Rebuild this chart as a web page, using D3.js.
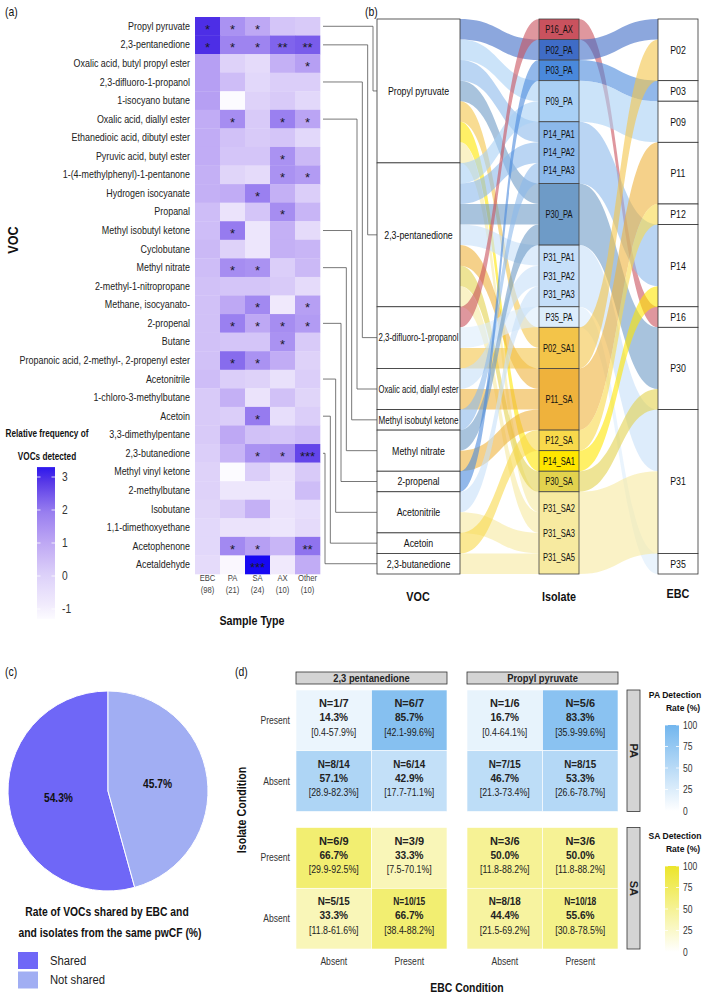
<!DOCTYPE html>
<html lang="en">
<head>
<meta charset="UTF-8">
<title>VOCs in EBC and isolates</title>
<style>
  body { margin: 0; background: #fff; }
  svg { display: block; font-family: "Liberation Sans", Arial, sans-serif; }
</style>
</head>
<body>
<script src="https://d3js.org/d3.v7.min.js"></script>
<script>

// ---- (a) heatmap data
var vocs = ["Propyl pyruvate", "2,3-pentanedione", "Oxalic acid, butyl propyl ester", "2,3-difluoro-1-propanol",
  "1-isocyano butane", "Oxalic acid, diallyl ester", "Ethanedioic acid, dibutyl ester", "Pyruvic acid, butyl ester",
  "1-(4-methylphenyl)-1-pentanone", "Hydrogen isocyanate", "Propanal", "Methyl isobutyl ketone", "Cyclobutane",
  "Methyl nitrate", "2-methyl-1-nitropropane", "Methane, isocyanato-", "2-propenal", "Butane",
  "Propanoic acid, 2-methyl-, 2-propenyl ester", "Acetonitrile", "1-chloro-3-methylbutane", "Acetoin",
  "3,3-dimethylpentane", "2,3-butanedione", "Methyl vinyl ketone", "2-methylbutane", "Isobutane",
  "1,1-dimethoxyethane", "Acetophenone", "Acetaldehyde"];
var sampleTypes = ["EBC", "PA", "SA", "AX", "Other"];
var sampleCounts = ["(98)", "(21)", "(24)", "(10)", "(10)"];
var relFreq = [
  [3.0, 1.5, 1.0, 0.3, 0.2], [3.0, 1.8, 1.8, 2.3, 2.4], [1.2, 0.0, -0.3, 0.8, 1.2], [1.2, 0.5, -0.2, 0.1, 0.1],
  [1.2, -1.3, 0.0, 0.2, -0.2], [0.9, 1.6, 0.2, 1.9, 1.1], [0.9, 0.4, 0.2, 0.3, -0.2], [0.9, 0.3, 0.3, 1.5, 0.6],
  [0.8, -0.1, -0.3, 1.5, 1.3], [0.8, 0.9, 1.9, 0.8, 0.1], [0.5, -0.6, 0.3, 1.6, 0.7], [0.5, 2.0, -0.7, 0.8, -0.3],
  [0.6, 0.0, -0.7, 0.8, 0.7], [0.5, 1.6, 1.5, 0.1, 0.6], [0.4, 0.3, 0.3, 0.2, -0.3], [0.4, 1.0, 1.7, -0.8, 1.2],
  [0.4, 1.9, 1.0, 1.6, 1.3], [0.4, 0.3, 0.3, 1.5, 0.2], [0.4, 2.2, 1.5, 0.9, 0.0], [0.5, 0.1, 0.0, -0.5, 0.1],
  [0.2, 0.8, -0.6, 0.4, -0.1], [0.2, 0.1, 2.0, -0.4, 0.1], [0.2, 1.0, 0.4, 0.3, 0.5], [0.1, 0.7, 1.5, 1.6, 2.7],
  [0.0, -1.3, 0.1, -0.6, 0.2], [0.0, -0.7, -0.7, -0.7, 0.5], [-0.1, 0.2, 0.8, -0.6, -0.4], [-0.2, -0.6, -0.6, -0.7, -0.3],
  [-0.2, 1.7, 1.2, 0.7, 2.1], [-0.3, -1.2, 3.5, -0.8, 0.9]
];
var signif = [
  ["*", "*", "*", "", ""], ["*", "*", "*", "**", "**"], ["", "", "", "", "*"], ["", "", "", "", ""],
  ["", "", "", "", ""], ["", "*", "", "*", "*"], ["", "", "", "", ""], ["", "", "", "*", ""],
  ["", "", "", "*", "*"], ["", "", "*", "", ""], ["", "", "", "*", ""], ["", "*", "", "", ""],
  ["", "", "", "", ""], ["", "*", "*", "", ""], ["", "", "", "", ""], ["", "", "*", "", "*"],
  ["", "*", "*", "*", "*"], ["", "", "", "*", ""], ["", "*", "*", "", ""], ["", "", "", "", ""],
  ["", "", "", "", ""], ["", "", "*", "", ""], ["", "", "", "", ""], ["", "", "*", "*", "***"],
  ["", "", "", "", ""], ["", "", "", "", ""], ["", "", "", "", ""], ["", "", "", "", ""],
  ["", "*", "*", "", "**"], ["", "", "***", "", ""]
];
var freqTicks = [3, 2, 1, 0, -1];

// ---- (b) alluvial data
var alluvialVocs = ["Propyl pyruvate", "2,3-pentanedione", "2,3-difluoro-1-propanol", "Oxalic acid, diallyl ester",
  "Methyl isobutyl ketone", "Methyl nitrate", "2-propenal", "Acetonitrile", "Acetoin", "2,3-butanedione"];
var isolates = ["P16_AX", "P02_PA", "P03_PA", "P09_PA", "P14_PA", "P30_PA", "P31_PA", "P35_PA",
  "P02_SA1", "P11_SA", "P12_SA", "P14_SA1", "P30_SA", "P31_SA"];
var isolateNames = [["P16_AX"], ["P02_PA"], ["P03_PA"], ["P09_PA"], ["P14_PA1", "P14_PA2", "P14_PA3"], ["P30_PA"],
  ["P31_PA1", "P31_PA2", "P31_PA3"], ["P35_PA"], ["P02_SA1"], ["P11_SA"], ["P12_SA"], ["P14_SA1"], ["P30_SA"],
  ["P31_SA2", "P31_SA3", "P31_SA5"]];
var isolatePatient = ["P16", "P02", "P03", "P09", "P14", "P30", "P31", "P35", "P02", "P11", "P12", "P14", "P30", "P31"];
var isolateColors = ["#c9525e", "#3f6cc6", "#4a89dc", "#a9d0f5", "#8cb9eb", "#6e9bc7", "#c6dff9", "#dcedfc",
  "#f3c449", "#efb23c", "#f8d94b", "#ffe600", "#e2d24e", "#f7eaa0"];
var patients = ["P02", "P03", "P09", "P11", "P12", "P14", "P16", "P30", "P31", "P35"];
var links = [
  ["Propyl pyruvate", "P02_PA"], ["Propyl pyruvate", "P09_PA"], ["Propyl pyruvate", "P14_PA"], ["Propyl pyruvate", "P30_PA"],
  ["Propyl pyruvate", "P02_SA1"], ["Propyl pyruvate", "P14_SA1"], ["Propyl pyruvate", "P31_SA"],
  ["2,3-pentanedione", "P09_PA"], ["2,3-pentanedione", "P14_PA"], ["2,3-pentanedione", "P30_PA"], ["2,3-pentanedione", "P31_PA"],
  ["2,3-pentanedione", "P11_SA"], ["2,3-pentanedione", "P30_SA"], ["2,3-pentanedione", "P31_SA"],
  ["2,3-difluoro-1-propanol", "P16_AX"], ["2,3-difluoro-1-propanol", "P35_PA"], ["2,3-difluoro-1-propanol", "P02_SA1"],
  ["Oxalic acid, diallyl ester", "P31_PA"], ["Oxalic acid, diallyl ester", "P11_SA"],
  ["Methyl isobutyl ketone", "P14_PA"],
  ["Methyl nitrate", "P30_PA"], ["Methyl nitrate", "P11_SA"],
  ["2-propenal", "P03_PA"],
  ["Acetonitrile", "P31_PA"], ["Acetonitrile", "P31_SA"],
  ["Acetoin", "P12_SA"],
  ["2,3-butanedione", "P31_SA"]
];

// ---- (c) pie data
var pieCats = ["Shared", "Not shared"];
var pieVals = [54.3, 45.7];
var pieColors = ["#6f67f7", "#a1aef3"];

// ---- (d) tile data, order: isolate > VOC > isolate condition > EBC condition
var tileVocs = ["2,3 pentanedione", "Propyl pyruvate"];
var tileIsolates = ["PA", "SA"];
var isoConds = ["Present", "Absent"];
var ebcConds = ["Absent", "Present"];
var tileN = ["1/7", "6/7", "8/14", "6/14", "1/6", "5/6", "7/15", "8/15",
  "6/9", "3/9", "5/15", "10/15", "3/6", "3/6", "8/18", "10/18"];
var tileRate = [14.3, 85.7, 57.1, 42.9, 16.7, 83.3, 46.7, 53.3,
  66.7, 33.3, 33.3, 66.7, 50.0, 50.0, 44.4, 55.6];
var tileCI = ["0.4-57.9", "42.1-99.6", "28.9-82.3", "17.7-71.1", "0.4-64.1", "35.9-99.6", "21.3-73.4", "26.6-78.7",
  "29.9-92.5", "7.5-70.1", "11.8-61.6", "38.4-88.2", "11.8-88.2", "11.8-88.2", "21.5-69.2", "30.8-78.5"];
var rateTicks = [100, 75, 50, 25, 0];

var svg = d3.select("body").append("svg").attr("width", 708).attr("height", 1001);
var defs = svg.append("defs");

// narrow the glyphs of a text selection by factor k
function squeeze(sel, k) {
  sel.each(function () {
    var w = this.getComputedTextLength();
    if (w > 0) d3.select(this).attr("textLength", (w * k).toFixed(1)).attr("lengthAdjust", "spacingAndGlyphs");
  });
  return sel;
}
function addText(x, y, txt, size, weight, anchor) {
  return svg.append("text").attr("x", x).attr("y", y).attr("font-size", size)
    .attr("font-weight", weight || "normal").attr("text-anchor", anchor || "middle").attr("fill", "#111").text(txt);
}

// panel letters
squeeze(addText(5, 16, "(a)", 13, "normal", "start"), 0.8);
squeeze(addText(365, 16, "(b)", 13, "normal", "start"), 0.8);
squeeze(addText(5, 676, "(c)", 13, "normal", "start"), 0.8);
squeeze(addText(235, 676, "(d)", 13, "normal", "start"), 0.8);

// ================= (a) heatmap
var hx = d3.scaleBand().domain(sampleTypes).range([195, 320]);
var hy = d3.scaleBand().domain(vocs).range([17, 574]);
var heatColor = d3.scaleLinear()
  .domain([-1.4, -1, 0, 1, 2, 3, 3.6])
  .range(["#ffffff", "#f4effd", "#ded2f9", "#bea8f4", "#967bef", "#4d2ee6", "#0c00f4"])
  .clamp(true);

var cells = [];
vocs.forEach(function (v, i) {
  sampleTypes.forEach(function (s, j) {
    cells.push({ voc: v, type: s, value: relFreq[i][j], star: signif[i][j] });
  });
});

svg.append("g").selectAll("rect").data(cells).join("rect")
  .attr("x", function (d) { return hx(d.type); })
  .attr("y", function (d) { return hy(d.voc); })
  .attr("width", hx.bandwidth() + 0.3)
  .attr("height", hy.bandwidth() + 0.3)
  .attr("fill", function (d) { return heatColor(d.value); });

svg.append("g").selectAll("text").data(cells.filter(function (d) { return d.star; })).join("text")
  .attr("x", function (d) { return hx(d.type) + hx.bandwidth() / 2; })
  .attr("y", function (d) { return hy(d.voc) + hy.bandwidth() / 2 + 7.5; })
  .attr("text-anchor", "middle").attr("font-size", 13).attr("fill", "#1a1a2a")
  .text(function (d) { return d.star; });

var yAxisG = svg.append("g").attr("transform", "translate(195,0)")
  .call(d3.axisLeft(hy).tickSize(0).tickPadding(5));
yAxisG.attr("font-family", null).select(".domain").remove();
squeeze(yAxisG.selectAll("text").attr("font-size", 11).attr("fill", "#222"), 0.81);

var xAxisG = svg.append("g").attr("transform", "translate(0,574)")
  .call(d3.axisBottom(hx).tickSize(0).tickPadding(1));
xAxisG.attr("font-family", null).select(".domain").remove();
xAxisG.selectAll("text").attr("font-size", 9).attr("fill", "#444");
xAxisG.selectAll(".tick").append("text")
  .attr("y", 13).attr("dy", "0.71em").attr("font-size", 9).attr("fill", "#444")
  .text(function (d, i) { return sampleCounts[i]; });
squeeze(xAxisG.selectAll("text"), 0.85);

squeeze(addText(252, 625, "Sample Type", 13, "bold"), 0.82);
squeeze(addText(0, 0, "VOC", 14, "bold").attr("transform", "translate(18,240) rotate(-90)"), 0.9);

// colour legend
var legY = d3.scaleLinear().domain([-1, 3]).range([609, 477]);
var heatGrad = defs.append("linearGradient").attr("id", "heatGrad")
  .attr("x1", 0).attr("y1", 1).attr("x2", 0).attr("y2", 0);
d3.range(0, 1.0001, 0.1).forEach(function (t) {
  heatGrad.append("stop").attr("offset", t).attr("stop-color", heatColor(-1.3 + t * 4.6));
});
svg.append("rect").attr("x", 37).attr("y", legY(3.3)).attr("width", 18)
  .attr("height", legY(-1.3) - legY(3.3)).attr("fill", "url(#heatGrad)");
svg.append("g").selectAll("path").data(freqTicks).join("path")
  .attr("d", function (d) { return "M37," + legY(d) + "h3.5M51.5," + legY(d) + "h3.5"; })
  .attr("stroke", "#fff").attr("stroke-width", 0.8);
var legAxis = svg.append("g").attr("transform", "translate(55,0)")
  .call(d3.axisRight(legY).tickValues(freqTicks).tickSize(0).tickPadding(7)
    .tickFormat(function (d) { return String(d); }));
legAxis.attr("font-family", null).select(".domain").remove();
squeeze(legAxis.selectAll("text").attr("font-size", 12).attr("fill", "#333"), 0.85);
squeeze(addText(47, 437, "Relative frequency of", 10.5, "bold"), 0.78);
squeeze(addText(47, 460, "VOCs detected", 10.5, "bold"), 0.78);

// ================= (b) alluvial
var sy = d3.scaleLinear().domain([0, links.length]).range([19, 574]);
var unitH = sy(1) - sy(0);
var colVoc = [377, 460], colIso = [539, 579], colEbc = [658, 698];

function stackNodes(names, keyOf) {
  var pos = 0;
  return names.map(function (n) {
    var c = links.filter(function (l) { return keyOf(l) === n; }).length;
    var node = { name: n, start: pos, count: c };
    pos += c;
    return node;
  });
}
var vocNodes = stackNodes(alluvialVocs, function (l) { return l[0]; });
var isoNodes = stackNodes(isolates, function (l) { return l[1]; });
var ebcNodes = stackNodes(patients, function (l) { return isolatePatient[isolates.indexOf(l[1])]; });

var lodes = links.map(function (l) {
  return { voc: l[0], iso: l[1], vi: alluvialVocs.indexOf(l[0]), ii: isolates.indexOf(l[1]) };
});
vocNodes.forEach(function (n) {
  var k = n.start;
  lodes.filter(function (d) { return d.voc === n.name; })
    .sort(function (a, b) { return a.ii - b.ii; })
    .forEach(function (d) { d.p0 = k++; });
});
isoNodes.forEach(function (n) {
  var k = n.start;
  lodes.filter(function (d) { return d.iso === n.name; })
    .sort(function (a, b) { return a.vi - b.vi; })
    .forEach(function (d) { d.p1 = k++; });
});
var isoLinks = isoNodes.map(function (n, i) {
  return { node: n, color: isolateColors[i], patient: isolatePatient[i] };
});
ebcNodes.forEach(function (e) {
  var k = e.start;
  isoLinks.filter(function (d) { return d.patient === e.name; })
    .forEach(function (d) { d.p2 = k; k += d.node.count; });
});

function band(x0, ya, x1, yb, h) {
  var p = d3.path(), xm = (x0 + x1) / 2;
  p.moveTo(x0, ya);
  p.bezierCurveTo(xm, ya, xm, yb, x1, yb);
  p.lineTo(x1, yb + h);
  p.bezierCurveTo(xm, yb + h, xm, ya + h, x0, ya + h);
  p.closePath();
  return p.toString();
}

svg.append("g").selectAll("path").data(lodes).join("path")
  .attr("d", function (d) { return band(colVoc[1], sy(d.p0), colIso[0], sy(d.p1), unitH); })
  .attr("fill", function (d) { return isolateColors[d.ii]; })
  .attr("fill-opacity", 0.6);
svg.append("g").selectAll("path").data(isoLinks).join("path")
  .attr("d", function (d) { return band(colIso[1], sy(d.node.start), colEbc[0], sy(d.p2), unitH * d.node.count); })
  .attr("fill", function (d) { return d.color; })
  .attr("fill-opacity", 0.6);

// VOC nodes
var vocG = svg.append("g").selectAll("g").data(vocNodes).join("g");
vocG.append("rect")
  .attr("x", colVoc[0]).attr("y", function (d) { return sy(d.start); })
  .attr("width", colVoc[1] - colVoc[0]).attr("height", function (d) { return unitH * d.count; })
  .attr("fill", "#fff").attr("stroke", "#333").attr("stroke-width", 0.8);
var vocLab = vocG.append("text")
  .attr("x", (colVoc[0] + colVoc[1]) / 2).attr("y", function (d) { return sy(d.start + d.count / 2); })
  .attr("dy", "0.35em").attr("text-anchor", "middle").attr("font-size", 11).attr("fill", "#111")
  .text(function (d) { return d.name; });
vocLab.each(function () {
  var w = this.getComputedTextLength() * 0.8;
  d3.select(this).attr("textLength", Math.min(w, 80)).attr("lengthAdjust", "spacingAndGlyphs");
});

// isolate nodes
var isoG = svg.append("g").selectAll("g").data(isoNodes).join("g");
isoG.append("rect")
  .attr("x", colIso[0]).attr("y", function (d) { return sy(d.start); })
  .attr("width", colIso[1] - colIso[0]).attr("height", function (d) { return unitH * d.count; })
  .attr("fill", function (d, i) { return isolateColors[i]; })
  .attr("stroke", "#444").attr("stroke-width", 0.8);
isoNodes.forEach(function (n, i) {
  var names = isolateNames[i], h = unitH * n.count, c = sy(n.start + n.count / 2);
  names.forEach(function (nm, j) {
    var t = svg.append("text").attr("x", (colIso[0] + colIso[1]) / 2)
      .attr("y", c + (j - (names.length - 1) / 2) * h / 3.4).attr("dy", "0.35em")
      .attr("text-anchor", "middle").attr("font-size", 10.5).attr("fill", "#111").text(nm);
    squeeze(t, 0.72);
  });
});

// EBC nodes
var ebcG = svg.append("g").selectAll("g").data(ebcNodes).join("g");
ebcG.append("rect")
  .attr("x", colEbc[0]).attr("y", function (d) { return sy(d.start); })
  .attr("width", colEbc[1] - colEbc[0]).attr("height", function (d) { return unitH * d.count; })
  .attr("fill", "#fff").attr("stroke", "#333").attr("stroke-width", 0.8);
squeeze(ebcG.append("text")
  .attr("x", (colEbc[0] + colEbc[1]) / 2).attr("y", function (d) { return sy(d.start + d.count / 2); })
  .attr("dy", "0.35em").attr("text-anchor", "middle").attr("font-size", 11).attr("fill", "#111")
  .text(function (d) { return d.name; }), 0.8);

// connectors from heatmap rows to VOC nodes
var connX = d3.scaleLinear().domain([0, alluvialVocs.length - 1]).range([373, 325]);
svg.append("g").selectAll("path").data(vocNodes).join("path")
  .attr("d", function (d, i) {
    var y0 = hy(d.name) + hy.bandwidth() / 2, y1 = sy(d.start + d.count / 2);
    return "M323," + y0 + "H" + connX(i) + "V" + y1 + "H" + colVoc[0];
  })
  .attr("fill", "none").attr("stroke", "#555").attr("stroke-width", 0.8);

squeeze(addText(418, 601, "VOC", 13, "bold"), 0.83);
squeeze(addText(559, 601, "Isolate", 13, "bold"), 0.83);
squeeze(addText(678, 598, "EBC", 13, "bold"), 0.83);

// ================= (c) pie
var pieG = svg.append("g").attr("transform", "translate(108,791)");
var pie = d3.pie().sort(null)
  .startAngle(-2 * Math.PI * pieVals[0] / 100)
  .endAngle(2 * Math.PI * pieVals[1] / 100);
var arc = d3.arc().innerRadius(0).outerRadius(100);
var slices = pie(pieVals);
pieG.selectAll("path").data(slices).join("path")
  .attr("d", arc).attr("fill", function (d, i) { return pieColors[i]; })
  .attr("stroke", "#fff").attr("stroke-width", 1);
squeeze(pieG.selectAll("text").data(slices).join("text")
  .attr("transform", function (d) { return "translate(" + arc.centroid(d) + ")"; })
  .attr("dy", "0.35em").attr("text-anchor", "middle").attr("font-size", 12).attr("font-weight", "bold")
  .attr("fill", "#111").text(function (d) { return d.data.toFixed(1) + "%"; }), 0.85);

squeeze(addText(107, 916, "Rate of VOCs shared by EBC and", 12, "bold"), 0.86);
squeeze(addText(110, 937, "and isolates from the same pwCF (%)", 12, "bold"), 0.86);
var pieLeg = svg.append("g").selectAll("g").data(pieCats).join("g")
  .attr("transform", function (d, i) { return "translate(18," + (952 + i * 19.5) + ")"; });
pieLeg.append("rect").attr("width", 20).attr("height", 17)
  .attr("fill", function (d, i) { return pieColors[i]; });
squeeze(pieLeg.append("text").attr("x", 32).attr("y", 8.5).attr("dy", "0.35em")
  .attr("font-size", 12.5).attr("fill", "#222").text(function (d) { return d; }), 0.9);

// ================= (d) detection tiles
var fx = d3.scaleBand().domain(tileVocs).range([296, 618]).paddingInner(0.117);
var cx = d3.scaleBand().domain(ebcConds).range([0, fx.bandwidth()]);
var fy = d3.scaleBand().domain(tileIsolates).range([690, 949]).paddingInner(0.117);
var cy = d3.scaleBand().domain(isoConds).range([0, fy.bandwidth()]);
var tileColor = {
  PA: d3.scaleLinear().domain([0, 100]).range(["#ffffff", "#72b6ee"]),
  SA: d3.scaleLinear().domain([0, 100]).range(["#ffffff", "#ece52a"])
};

var tiles = [];
tileIsolates.forEach(function (iso) {
  tileVocs.forEach(function (v) {
    isoConds.forEach(function (ic) {
      ebcConds.forEach(function (ec) {
        var k = tiles.length;
        tiles.push({ iso: iso, voc: v, ic: ic, ec: ec, n: tileN[k], rate: tileRate[k], ci: tileCI[k] });
      });
    });
  });
});

var tileG = svg.append("g").selectAll("g").data(tiles).join("g")
  .attr("transform", function (d) { return "translate(" + (fx(d.voc) + cx(d.ec)) + "," + (fy(d.iso) + cy(d.ic)) + ")"; });
tileG.append("rect").attr("width", cx.bandwidth()).attr("height", cy.bandwidth())
  .attr("fill", function (d) { return tileColor[d.iso](d.rate); })
  .attr("stroke", "#fff").attr("stroke-width", 0.6);
var tcx = cx.bandwidth() / 2, tcy = cy.bandwidth() / 2;
tileG.append("text").attr("x", tcx).attr("y", tcy - 17).attr("dy", "0.35em")
  .attr("text-anchor", "middle").attr("font-size", 11).attr("font-weight", "bold").attr("fill", "#222")
  .text(function (d) { return "N=" + d.n; })
  .each(function () {
    var w = this.getComputedTextLength();
    if (w > 33) d3.select(this).attr("textLength", 32).attr("lengthAdjust", "spacingAndGlyphs");
  });
squeeze(tileG.append("text").attr("x", tcx).attr("y", tcy - 3).attr("dy", "0.35em")
  .attr("text-anchor", "middle").attr("font-size", 11).attr("font-weight", "bold").attr("fill", "#222")
  .text(function (d) { return d.rate.toFixed(1) + "%"; }), 0.92);
squeeze(tileG.append("text").attr("x", tcx).attr("y", tcy + 11.5).attr("dy", "0.35em")
  .attr("text-anchor", "middle").attr("font-size", 10.5).attr("fill", "#222")
  .text(function (d) { return "[" + d.ci + "%]"; }), 0.84);

// facet strips
var topStrip = svg.append("g").selectAll("g").data(tileVocs).join("g");
topStrip.append("rect").attr("x", function (d) { return fx(d); }).attr("y", 672)
  .attr("width", fx.bandwidth()).attr("height", 12)
  .attr("fill", "#d4d4d4").attr("stroke", "#333").attr("stroke-width", 0.8);
squeeze(topStrip.append("text").attr("x", function (d) { return fx(d) + fx.bandwidth() / 2; }).attr("y", 678)
  .attr("dy", "0.35em").attr("text-anchor", "middle").attr("font-size", 11).attr("font-weight", "bold")
  .attr("fill", "#222").text(function (d) { return d; }), 0.85);
var sideStrip = svg.append("g").selectAll("g").data(tileIsolates).join("g");
sideStrip.append("rect").attr("x", 627).attr("y", function (d) { return fy(d); })
  .attr("width", 13).attr("height", fy.bandwidth())
  .attr("fill", "#d4d4d4").attr("stroke", "#333").attr("stroke-width", 0.8);
sideStrip.append("text")
  .attr("transform", function (d) { return "translate(633.5," + (fy(d) + fy.bandwidth() / 2) + ") rotate(90)"; })
  .attr("dy", "0.35em").attr("text-anchor", "middle").attr("font-size", 11).attr("font-weight", "bold")
  .attr("fill", "#222").text(function (d) { return d; });

// axes of (d)
tileVocs.forEach(function (v) {
  var ax = svg.append("g").attr("transform", "translate(" + fx(v) + ",949)")
    .call(d3.axisBottom(cx).tickSize(0).tickPadding(8));
  ax.attr("font-family", null).select(".domain").remove();
  squeeze(ax.selectAll("text").attr("font-size", 11).attr("fill", "#333"), 0.78);
});
tileIsolates.forEach(function (iso) {
  var ay = svg.append("g").attr("transform", "translate(296," + fy(iso) + ")")
    .call(d3.axisLeft(cy).tickSize(0).tickPadding(6));
  ay.attr("font-family", null).select(".domain").remove();
  squeeze(ay.selectAll("text").attr("font-size", 11).attr("fill", "#333"), 0.78);
});
squeeze(addText(467, 992, "EBC Condition", 13, "bold"), 0.8);
squeeze(addText(0, 0, "Isolate Condition", 13, "bold").attr("transform", "translate(246,810) rotate(-90)"), 0.82);

// detection rate legends
tileIsolates.forEach(function (iso, i) {
  var top = i === 0 ? 725 : 866;
  var ly = d3.scaleLinear().domain([0, 100]).range([top + 86, top]);
  var g = defs.append("linearGradient").attr("id", "grad" + iso)
    .attr("x1", 0).attr("y1", 1).attr("x2", 0).attr("y2", 0);
  g.append("stop").attr("offset", 0).attr("stop-color", tileColor[iso](0));
  g.append("stop").attr("offset", 1).attr("stop-color", tileColor[iso](100));
  svg.append("rect").attr("x", 665).attr("y", top).attr("width", 14).attr("height", 86)
    .attr("fill", "url(#grad" + iso + ")");
  svg.append("g").selectAll("path").data(rateTicks).join("path")
    .attr("d", function (d) { return "M665," + ly(d) + "h3M676," + ly(d) + "h3"; })
    .attr("stroke", "#fff").attr("stroke-width", 0.8);
  var la = svg.append("g").attr("transform", "translate(679,0)")
    .call(d3.axisRight(ly).tickValues(rateTicks).tickSize(0).tickPadding(4));
  la.attr("font-family", null).select(".domain").remove();
  squeeze(la.selectAll("text").attr("font-size", 10).attr("fill", "#333"), 0.85);
  squeeze(addText(675, top - 27, iso + " Detection", 9.5, "bold"), 0.9);
  squeeze(addText(683, top - 14, "Rate (%)", 9.5, "bold"), 0.9);
});

</script>
</body>
</html>
